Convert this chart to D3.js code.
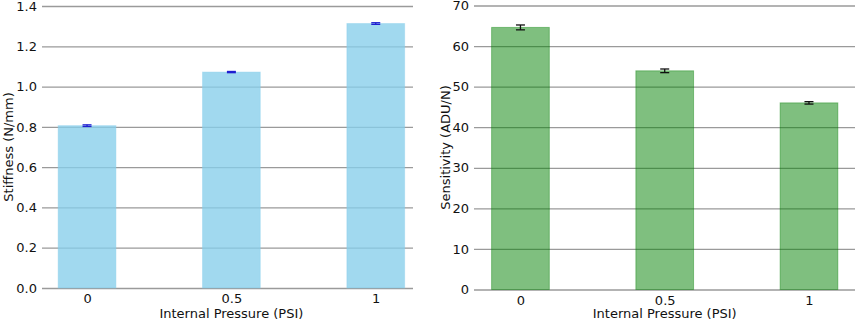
<!DOCTYPE html>
<html>
<head>
<meta charset="utf-8">
<script src="https://cdn.jsdelivr.net/npm/d3@7"></script>
<style>
  body { margin: 0; background: #fff; }
  svg text { font-family: "DejaVu Sans", sans-serif; fill: #111; }
</style>
</head>
<body>
<svg id="chart" width="858" height="322"></svg>
<script>
// data
const pressures = ["0", "0.5", "1"];
const stiffness = [0.806, 1.072, 1.313];
const stiffnessErr = [0.004, 0.003, 0.004];
const sensitivity = [64.6, 53.9, 46.0];
const sensitivityErr = [0.6, 0.45, 0.3];
const stiffnessTicks = [0, 0.2, 0.4, 0.6, 0.8, 1.0, 1.2, 1.4];
const sensitivityTicks = [0, 10, 20, 30, 40, 50, 60, 70];

const svg = d3.select("#chart");

function drawPanel(opts) {
  const g = svg.append("g");

  const x = d3.scaleLinear()
    .domain(opts.xDomain)
    .range(opts.xRange);

  const y = d3.scaleLinear()
    .domain([0, opts.yMax])
    .range(opts.yRange);

  const barW = x(0.4) - x(0);

  // grid lines (behind the translucent bars)
  g.append("g")
    .attr("transform", "translate(" + opts.xRange[0] + ",0)")
    .call(d3.axisLeft(y)
      .tickValues(opts.ticks)
      .tickSize(-(opts.xRange[1] - opts.xRange[0]))
      .tickPadding(5)
      .tickFormat(opts.fmt))
    .call(a => a.select(".domain").remove())
    .call(a => a.selectAll("line").attr("stroke", "#9a9a9a").attr("stroke-width", 1.3))
    .call(a => a.selectAll("text").style("font-size", "13px"));

  // bars
  g.selectAll("rect.bar")
    .data(opts.values)
    .enter()
    .append("rect")
    .attr("class", "bar")
    .attr("x", (d, i) => x(i) - barW / 2)
    .attr("y", d => y(d))
    .attr("width", barW)
    .attr("height", d => y(0) - y(d))
    .attr("fill", opts.fill)
    .attr("fill-opacity", opts.opacity)
    .attr("stroke", opts.edge)
    .attr("stroke-opacity", 0.4)
    .attr("stroke-width", 1);

  // error bars
  const eb = g.selectAll("g.err")
    .data(opts.values)
    .enter()
    .append("g")
    .attr("class", "err")
    .attr("stroke", opts.errColor)
    .attr("stroke-width", 1.3);
  eb.append("line")
    .attr("x1", (d, i) => x(i)).attr("x2", (d, i) => x(i))
    .attr("y1", (d, i) => y(d - opts.errs[i]))
    .attr("y2", (d, i) => y(d + opts.errs[i]));
  eb.append("line")
    .attr("x1", (d, i) => x(i) - 4.5).attr("x2", (d, i) => x(i) + 4.5)
    .attr("y1", (d, i) => y(d - opts.errs[i]))
    .attr("y2", (d, i) => y(d - opts.errs[i]));
  eb.append("line")
    .attr("x1", (d, i) => x(i) - 4.5).attr("x2", (d, i) => x(i) + 4.5)
    .attr("y1", (d, i) => y(d + opts.errs[i]))
    .attr("y2", (d, i) => y(d + opts.errs[i]));

  // x axis labels
  g.append("g")
    .attr("transform", "translate(0," + opts.yRange[0] + ")")
    .call(d3.axisBottom(x)
      .tickValues(d3.range(pressures.length))
      .tickSize(0)
      .tickPadding(6)
      .tickFormat(i => pressures[i]))
    .call(a => a.select(".domain").remove())
    .call(a => a.selectAll("text").style("font-size", "13px"));

  g.append("text")
    .attr("x", (x(0) + x(pressures.length - 1)) / 2)
    .attr("y", 318)
    .attr("text-anchor", "middle")
    .style("font-size", "13px")
    .text("Internal Pressure (PSI)");

  g.append("text")
    .attr("transform", "translate(" + opts.yLabelX + "," + ((opts.yRange[0] + opts.yRange[1]) / 2) + ") rotate(-90)")
    .attr("text-anchor", "middle")
    .attr("dy", "0.35em")
    .style("font-size", "13px")
    .text(opts.yLabel);
}

drawPanel({
  values: stiffness,
  errs: stiffnessErr,
  ticks: stiffnessTicks,
  fmt: d3.format(".1f"),
  yMax: 1.4,
  xDomain: [-0.312, 2.258],
  xRange: [42, 413],
  yRange: [288, 6],
  fill: "#87ceeb",
  opacity: 0.78,
  edge: "#87ceeb",
  errColor: "#1f1fd0",
  yLabel: "Stiffness (N/mm)",
  yLabelX: 8
});

drawPanel({
  values: sensitivity,
  errs: sensitivityErr,
  ticks: sensitivityTicks,
  fmt: d3.format("d"),
  yMax: 70,
  xDomain: [-0.322, 2.319],
  xRange: [474, 855],
  yRange: [289.5, 5.5],
  fill: "#008000",
  opacity: 0.5,
  edge: "#008000",
  errColor: "#111",
  yLabel: "Sensitivity (ADU/N)",
  yLabelX: 445
});
</script>
</body>
</html>
